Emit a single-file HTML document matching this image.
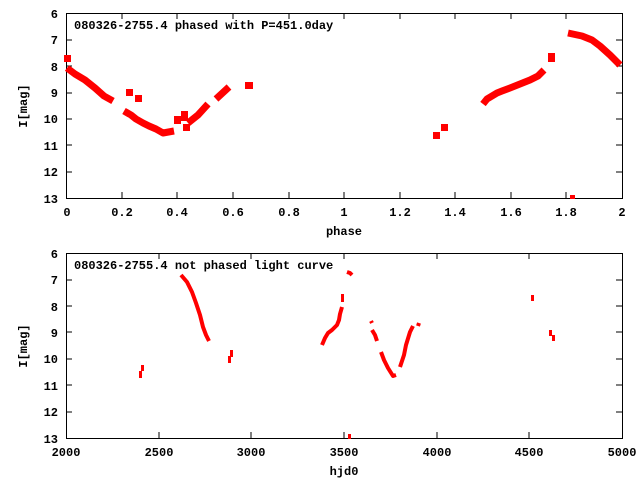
<!DOCTYPE html>
<html><head><style>
body{margin:0;background:#fff}
svg{display:block}
text{font-family:"Liberation Mono",monospace;font-size:12px;font-weight:bold;fill:#000}
</style></head><body>
<svg width="640" height="480" viewBox="0 0 640 480">
<g fill="none" stroke="#000" stroke-width="1">
<rect x="66.5" y="13.5" width="556" height="185"/>
<rect x="66.5" y="253.5" width="556" height="185"/>
<path d="M66 40h6M66 66h6M66 93h6M66 119h6M66 145h6M66 172h6M616 40h6M616 66h6M616 93h6M616 119h6M616 145h6M616 172h6
M66 280h6M66 306h6M66 332h6M66 359h6M66 385h6M66 412h6M616 280h6M616 306h6M616 332h6M616 359h6M616 385h6M616 412h6
M122 198v-6M177 198v-6M233 198v-6M289 198v-6M344 198v-6M400 198v-6M455 198v-6M511 198v-6M566 198v-6
M122 13v6M177 13v6M233 13v6M289 13v6M344 13v6M400 13v6M455 13v6M511 13v6M566 13v6
M159 438v-6M251 438v-6M344 438v-6M437 438v-6M529 438v-6M159 253v6M251 253v6M344 253v6M437 253v6M529 253v6"/>
</g>
<g text-anchor="end">
<text x="58" y="18">6</text><text x="58" y="44">7</text><text x="58" y="71">8</text><text x="58" y="97">9</text><text x="58" y="123">10</text><text x="58" y="150">11</text><text x="58" y="176">12</text><text x="58" y="203">13</text>
<text x="58" y="258">6</text><text x="58" y="284">7</text><text x="58" y="311">8</text><text x="58" y="337">9</text><text x="58" y="363">10</text><text x="58" y="390">11</text><text x="58" y="416">12</text><text x="58" y="443">13</text>
</g>
<g text-anchor="middle">
<text x="67" y="216">0</text><text x="122" y="216">0.2</text><text x="177" y="216">0.4</text><text x="233" y="216">0.6</text><text x="289" y="216">0.8</text><text x="344" y="216">1</text><text x="400" y="216">1.2</text><text x="455" y="216">1.4</text><text x="511" y="216">1.6</text><text x="566" y="216">1.8</text><text x="622" y="216">2</text>
<text x="344" y="235">phase</text>
<text x="66" y="456">2000</text><text x="159" y="456">2500</text><text x="251" y="456">3000</text><text x="344" y="456">3500</text><text x="437" y="456">4000</text><text x="529" y="456">4500</text><text x="622" y="456">5000</text>
<text x="344" y="475">hjd0</text>
<text transform="translate(27,106) rotate(-90)">I[mag]</text>
<text transform="translate(27,346) rotate(-90)">I[mag]</text>
</g>
<text x="74" y="29">080326-2755.4 phased with P=451.0day</text>
<text x="74" y="269">080326-2755.4 not phased light curve</text>
<g fill="none" stroke="#f00" stroke-width="7" stroke-linejoin="round">
<polyline points="67,68 75,74 85,80 95,88 104,96 113,101"/>
<polyline points="124,111 131,115 136,119 143,123 149,126 156,129 163,133 174,131"/>
<polyline points="188,123 198,115 208,104"/>
<polyline points="216,99 229,87"/>
<polyline points="483,104 487,99 492,96 497,93 502,91 510,88 520,84 530,80 538,76 544,70"/>
<polyline points="568,33 582,36 592,40 600,46 610,55 620,65"/>
</g>
<g fill="#f00">
<rect x="64" y="55" width="7" height="7"/><rect x="126" y="89" width="7" height="7"/><rect x="135" y="95" width="7" height="7"/>
<rect x="174" y="116" width="7" height="8"/><rect x="181" y="111" width="7" height="10"/><rect x="183" y="124" width="7" height="7"/>
<rect x="245" y="82" width="8" height="7"/><rect x="433" y="132" width="7" height="7"/><rect x="441" y="124" width="7" height="7"/>
<rect x="548" y="53" width="7" height="9"/><rect x="570" y="195" width="5" height="4"/>
</g>
<g fill="none" stroke="#f00" stroke-width="4" stroke-linejoin="round">
<polyline points="181,275 187,282 192,292 196,303 200,315 203,327 206,335 209,341"/>
<polyline points="322,345 325,338 328,333 332,330 337,325 339,320 340,314 342,307"/>
<polyline points="347,272 350,273 352,275"/>
<polyline points="371,321 372,323"/>
<polyline points="372,330 375,335 377,341"/>
<polyline points="381,352 384,360 388,368 393,376 396,375"/>
<polyline points="400,367 404,355 406,345 410,332 413,326"/>
<polyline points="418,326 419,323"/>
</g>
<g fill="#f00">
<rect x="139" y="371" width="3" height="7"/><rect x="141" y="365" width="3" height="6"/>
<rect x="228" y="356" width="3" height="7"/><rect x="230" y="350" width="3" height="7"/>
<rect x="341" y="294" width="3" height="8"/><rect x="348" y="434" width="3" height="5"/>
<rect x="531" y="295" width="3" height="6"/><rect x="549" y="330" width="3" height="6"/><rect x="552" y="335" width="3" height="6"/>
</g>
</svg>
</body></html>
